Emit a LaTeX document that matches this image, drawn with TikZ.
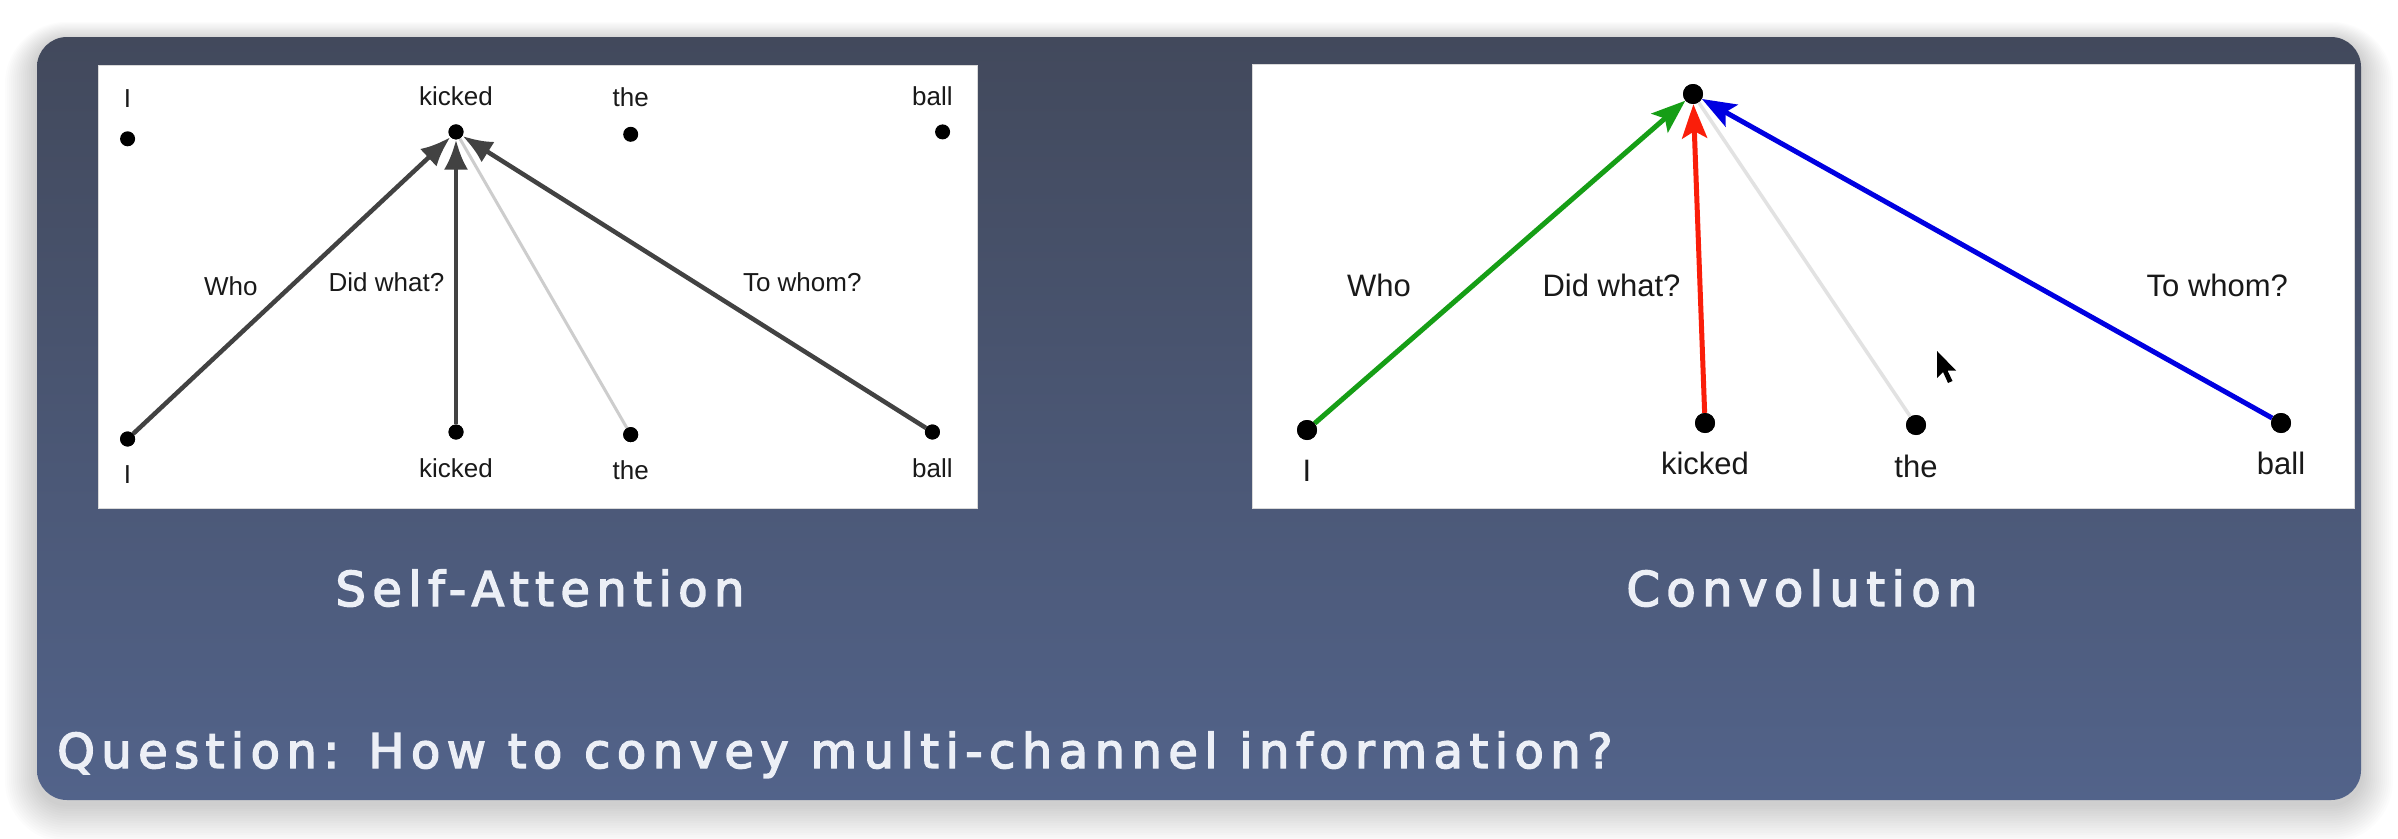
\documentclass[tikz,border=0pt]{standalone}
\usepackage{fontspec}
\setmainfont{Liberation Sans}
\newfontfamily\spacedfont[LetterSpace=13.4, FakeBold=3]{DejaVu Sans}
\usetikzlibrary{arrows.meta}

\definecolor{panTop}{RGB}{66,73,92}
\definecolor{panMid}{RGB}{77,91,123}
\definecolor{panBot}{RGB}{82,99,138}
\definecolor{capText}{RGB}{236,239,246}
\definecolor{arrowGray}{RGB}{66,66,66}
\definecolor{faintGray}{RGB}{205,205,205}
\definecolor{faintGrayR}{RGB}{226,226,226}
\definecolor{whoGreen}{RGB}{22,158,22}
\definecolor{whatRed}{RGB}{250,30,10}
\definecolor{whomBlue}{RGB}{0,0,225}

\tikzset{
  ldot/.style={circle, fill=black, inner sep=0pt, minimum size=15pt},
  rdot/.style={circle, fill=black, inner sep=0pt, minimum size=20pt},
  lword/.style={anchor=base, inner sep=0pt, font=\fontsize{26}{30}\selectfont, text=black!90},
  rword/.style={anchor=base, inner sep=0pt, font=\fontsize{31}{36}\selectfont, text=black!90},
  darrow/.style={draw=arrowGray, line width=4.5pt, -{Latex[length=30pt,width=24pt]}},
  lfaint/.style={draw=faintGray, line width=3pt},
  rfaint/.style={draw=faintGrayR, line width=3.5pt},
  carrow/.style={line width=5pt, -{Stealth[length=34pt,width=25pt,inset=7pt]}},
  caption/.style={anchor=base, inner sep=0pt, text=capText, font=\spacedfont\fontsize{48}{58}\selectfont},
  whitebox/.style={fill=white, draw=white!85!black, line width=1pt}
}

\begin{document}
\begin{tikzpicture}[x=1pt, y=-1pt]
\useasboundingbox (0,0) rectangle (2398,838);
\fill[white] (0,0) rectangle (2398,838);

% soft drop shadow around the panel
\foreach \i in {1,...,16} {
  \pgfmathsetmacro{\rr}{30+2*\i}
  \fill[black, opacity=0.010, rounded corners=\rr pt]
    (37-2*\i, 37-1.2*\i+4) rectangle (2361+2*\i, 800+2.4*\i+4);
}

% panel with vertical gradient
\shade[top color=panTop, middle color=panMid, bottom color=panBot, rounded corners=30pt]
  (37,37) rectangle (2361,800);

% ---------- self-attention diagram ----------
\fill[whitebox] (98,65) rectangle (977,508);

\node[ldot] (sI)  at (127.6,138.8) {};
\node[ldot] (sK)  at (456,131.9) {};
\node[ldot] (sT)  at (630.7,134.3) {};
\node[ldot] (sB)  at (942.6,131.9) {};
\node[ldot] (bI)  at (127.6,439) {};
\node[ldot] (bK)  at (456,432) {};
\node[ldot] (bT)  at (630.7,434.6) {};
\node[ldot] (bB)  at (932.4,432) {};

\node[lword] (sIl) at (127.6,107) {I};
\node[lword] (sKl) at (456,105) {kicked};
\node[lword] (sTl) at (630.7,106) {the};
\node[lword] (sBl) at (932.4,105) {ball};
\node[lword] (bIl) at (127.6,483) {I};
\node[lword] (bKl) at (456,477) {kicked};
\node[lword] (bTl) at (630.7,479) {the};
\node[lword] (bBl) at (932.4,477) {ball};

\node[lword] (sWho)  at (230.9,295.5) {Who};
\node[lword] (sWhat) at (386.5,291) {Did what?};
\node[lword] (sWhom) at (802.3,291) {To whom?};

\draw[lfaint] (bT) -- (sK);
\draw[darrow] (bI) -- (sK);
\draw[darrow] (bK) -- (sK);
\draw[darrow] (bB) -- (sK);
\node[ldot] at (sK) {};
\node[ldot] at (bI) {};
\node[ldot] at (bK) {};
\node[ldot] at (bT) {};
\node[ldot] at (bB) {};

% ---------- convolution diagram ----------
\fill[whitebox] (1252,64) rectangle (2354,508);

\node[rdot] (cTop) at (1693,94) {};
\node[rdot] (cI)   at (1307,430) {};
\node[rdot] (cK)   at (1705,423) {};
\node[rdot] (cT)   at (1916,425) {};
\node[rdot] (cB)   at (2281,423) {};

\node[rword] (cIl) at (1307,481.7) {I};
\node[rword] (cKl) at (1705,474) {kicked};
\node[rword] (cTl) at (1916,477) {the};
\node[rword] (cBl) at (2281,474) {ball};

\node[rword] (cWho)  at (1379,296) {Who};
\node[rword] (cWhat) at (1611.5,296) {Did what?};
\node[rword] (cWhom) at (2217.3,296) {To whom?};

\draw[rfaint] (cT) -- (cTop);
\draw[carrow, draw=whoGreen, fill=whoGreen] (cI) -- (cTop);
\draw[carrow, draw=whatRed, fill=whatRed] (cK) -- (cTop);
\draw[carrow, draw=whomBlue, fill=whomBlue] (cB) -- (cTop);
\node[rdot] at (cTop) {};
\node[rdot] at (cI) {};
\node[rdot] at (cK) {};
\node[rdot] at (cT) {};
\node[rdot] at (cB) {};

% mouse pointer
\fill[black] (1937,351) -- ++(0,27) -- ++(6,-6) -- ++(5,11) -- ++(4.5,-2)
  -- ++(-5,-10.5) -- ++(8.5,0) -- cycle;

% ---------- captions ----------
\node[caption] (capSA)   at (540,606) {Self-Attention};
\node[caption] (capConv) at (1802,606) {Convolution};
\node[caption, anchor=base west] (question) at (57,768)
  {Question: How to convey multi-channel information?};
\end{tikzpicture}
\end{document}
